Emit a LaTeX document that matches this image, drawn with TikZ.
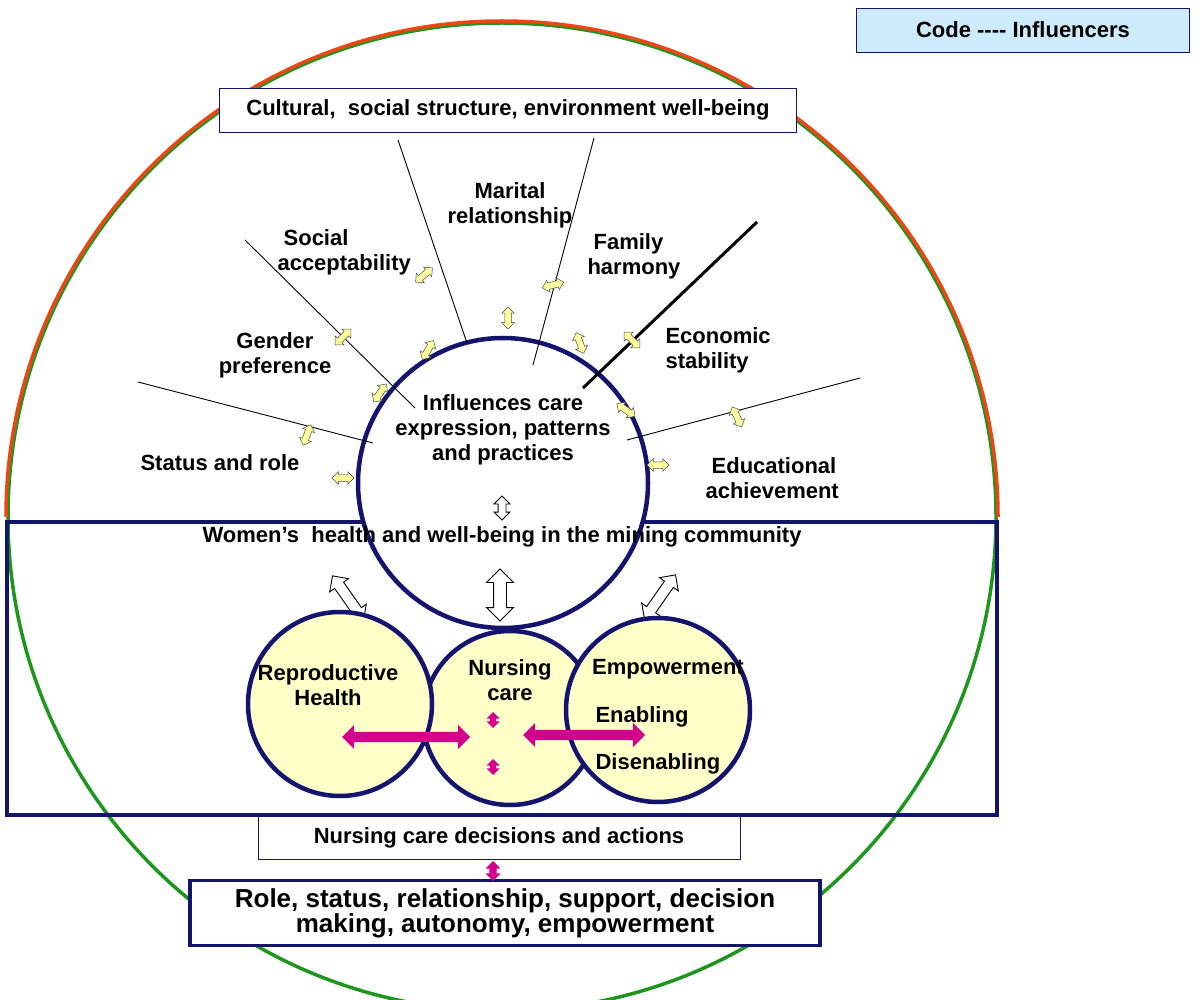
\documentclass[tikz,border=0pt]{standalone}
\usepackage{fontspec}
\setmainfont{Liberation Sans}
\usetikzlibrary{shapes.arrows}
\definecolor{navy}{RGB}{20,20,110}
\definecolor{ly}{RGB}{255,255,200}
\definecolor{ay}{RGB}{255,255,160}
\definecolor{lb}{RGB}{205,235,250}
\definecolor{mag}{RGB}{210,0,140}
\definecolor{gr}{RGB}{30,150,30}
\definecolor{rd}{RGB}{235,70,20}
\begin{document}
\begin{tikzpicture}[x=1pt,y=-1pt,
 lbl/.style={font=\fontsize{22}{25}\selectfont\bfseries,align=center},
 yarr/.style={double arrow,draw=black!70,fill=ay,minimum height=22pt,double arrow head extend=3pt,inner xsep=0pt,inner ysep=3pt,line width=0.5pt},
 warr/.style={double arrow,draw=black,fill=white,double arrow head extend=6pt,inner xsep=0pt,inner ysep=5pt,line width=0.9pt},
 marr/.style={double arrow,draw=none,fill=mag,double arrow head extend=7pt,inner xsep=0pt,inner ysep=5pt},
 circ/.style={circle,draw=navy,line width=4.5pt,fill=ly,inner sep=0pt},
 ray/.style={line width=0.9pt}]
\useasboundingbox (0,0) rectangle (1200,1000);
% big circle
\draw[gr,line width=3.5pt] (502,517) circle (494);
\draw[rd,line width=3.5pt] (6,517) arc (180:360:496);
% big rectangle
\draw[navy,line width=4pt] (7,522) rectangle (997,815);
% code box
\node[draw=navy,fill=lb,minimum width=333pt,minimum height=44pt,lbl,line width=0.8pt] (code) at (1023,30) {Code {-}{-}{-}{-} Influencers};
% top box
\node[draw=navy,fill=white,minimum width=577pt,minimum height=44pt,lbl,line width=0.8pt] (cult) at (508,110) {Cultural,\ \ social structure, environment well-being};
% central circle
\node[circle,draw=navy,line width=4.5pt,fill=white,minimum size=290pt,inner sep=0pt] (C) at (503,483) {};
% rays
\coordinate (r1a) at (138,382); \coordinate (r1b) at (373,443);
\coordinate (r2a) at (245,240); \coordinate (r2b) at (415,408);
\coordinate (r3a) at (398,140); \coordinate (r3b) at (467,343);
\coordinate (r4a) at (594,138); \coordinate (r4b) at (533,365);
\coordinate (r5a) at (757,222); \coordinate (r5b) at (583,388);
\coordinate (r6a) at (860,378); \coordinate (r6b) at (627,440);
\draw[ray] (r1a)--(r1b); \draw[ray] (r2a)--(r2b); \draw[ray] (r3a)--(r3b);
\draw[ray] (r4a)--(r4b); \draw[line width=3pt] (r5a)--(r5b); \draw[ray] (r6a)--(r6b);
% labels
\node[lbl] (t1) at (220,463) {Status and role};
\node[lbl] (t2) at (275,355) {Gender\\preference};
\node[lbl,anchor=west,align=left] (t3) at (274,252) {\ Social\\acceptability};
\node[lbl] (t4) at (510,205) {Marital\\relationship};
\node[lbl,anchor=west,align=left] (t5) at (584,256) {\ Family\\harmony};
\node[lbl,anchor=west,align=left] (t6) at (662,350) {Economic\\stability};
\node[lbl,anchor=west,align=left] (t7) at (702,478) {\ Educational\\achievement};
\node[lbl] (ti) at (503,430) {Influences care\\expression, patterns\\and practices};
\node[lbl] (tw) at (502,537) {Women’s\ \ health and well-being in the mining community};
% yellow arrows
\node[yarr] (y1) at (343,478) {};
\node[yarr,rotate=70] (y2) at (307,435) {};
\node[yarr,rotate=55] (y3) at (380,393) {};
\node[yarr,rotate=45] (y4) at (343,337) {};
\node[yarr,rotate=60] (y5) at (428,350) {};
\node[yarr,rotate=40] (y6) at (424,275) {};
\node[yarr,rotate=90] (y7) at (508,318) {};
\node[yarr,rotate=15] (y8) at (553,285) {};
\node[yarr,rotate=-70] (y9) at (580,343) {};
\node[yarr,rotate=-45] (y10) at (632,340) {};
\node[yarr,rotate=-35] (y11) at (626,410) {};
\node[yarr,rotate=-65] (y12) at (737,417) {};
\node[yarr] (y13) at (658,465) {};
% white arrows
\node[warr,rotate=90,minimum height=24pt,inner ysep=3.5pt,double arrow head extend=4pt] (w1) at (502,508) {};
\node[warr,rotate=90,minimum height=52pt,inner ysep=6pt,double arrow head extend=7pt] (w2) at (500,595) {};
\node[warr,rotate=-55,minimum height=54pt] (w3) at (348,598) {};
\node[warr,rotate=55,minimum height=54pt] (w4) at (660,597) {};
% small circles
\node[circ,minimum size=174pt] (N) at (510,718) {};
\node[circ,minimum size=184pt] (R) at (340,704) {};
\node[circ,minimum size=184pt] (E) at (658,710) {};
\node[lbl] (tr) at (328,685) {Reproductive\\Health};
\node[lbl] (tn) at (510,680) {Nursing\\care};
\node[lbl] (te) at (668,669) {Empowerment};
\node[lbl,anchor=west] (ten) at (592,717) {Enabling};
\node[lbl,anchor=west] (tdi) at (592,764) {Disenabling};
% magenta arrows
\node[marr,minimum height=128pt] (m1) at (406,737) {};
\node[marr,minimum height=122pt] (m2) at (584,735) {};
\node[marr,rotate=90,minimum height=16pt,inner ysep=3pt,double arrow head extend=3.5pt] (m3) at (493,720) {};
\node[marr,rotate=90,minimum height=16pt,inner ysep=3pt,double arrow head extend=3.5pt] (m4) at (493,767) {};
% bottom boxes
\node[draw=navy,fill=white,minimum width=482pt,minimum height=43pt,lbl,line width=0.8pt] (dec) at (499,838) {Nursing care decisions and actions};
\node[draw=navy,fill=white,line width=3.5pt,minimum width=630pt,minimum height=65pt,font=\fontsize{26}{25}\selectfont\bfseries,align=center] (role) at (505,913) {Role, status, relationship, support, decision\\making, autonomy, empowerment};
\node[marr,rotate=90,minimum height=20pt,inner ysep=3.5pt,double arrow head extend=4pt] (m5) at (493,871) {};
\end{tikzpicture}
\end{document}
